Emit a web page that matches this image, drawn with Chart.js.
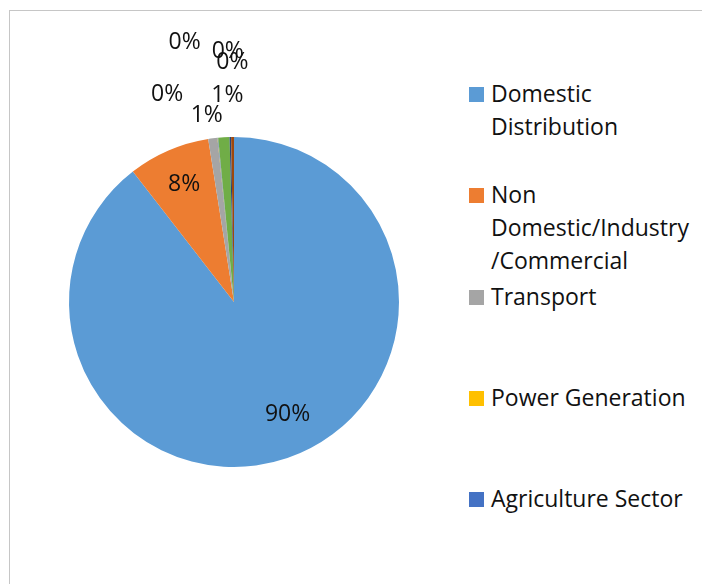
<!DOCTYPE html>
<html>
<head>
<meta charset="utf-8">
<script src="https://cdn.jsdelivr.net/npm/chart.js@4"></script>
<style>
  html, body { margin: 0; padding: 0; background: #fff; overflow: hidden; }
  body { width: 702px; height: 584px; position: relative; font-family: "Open Sans", sans-serif; }
  .frame { position: absolute; left: 9px; top: 10px; width: 800px; height: 700px; border: 1px solid #c6c6c6; }
  #myChart { position: absolute; left: 0; top: 0; }
  .legend { position: absolute; left: 469px; top: 77px; }
  .legend-item { position: relative; height: 101.3px; padding-left: 22px; font-size: 23px; line-height: 33px; color: #111; }
  .legend-item span { position: absolute; left: 0; top: 10px; width: 15px; height: 15px; }
</style>
</head>
<body>
<div class="frame"></div>
<canvas id="myChart" width="468" height="584"></canvas>
<div class="legend" id="legend"></div>
<script>
const sectors = ["Domestic Distribution", "Non Domestic/Industry /Commercial", "Transport", "Power Generation", "Agriculture Sector", "Category 6", "Category 7", "Category 8"]
const legendLines = [["Domestic", "Distribution"], ["Non", "Domestic/Industry", "/Commercial"], ["Transport"], ["Power Generation"], ["Agriculture Sector"]]
const shares = [89.5, 8.0, 0.9, 0.02, 0.05, 1.1, 0.15, 0.28]
const colors = ["#5B9BD5", "#ED7D31", "#A5A5A5", "#FFC000", "#4472C4", "#70AD47", "#264478", "#9E480E"]

// nudges for the labels (Excel pushes the crowded ones apart)
const labelNudge = [[13, -6], [0, -2], [-3, 1], [-48, -19], [-31, -71], [5, -18], [-2, -62], [0, -51]]

const $legend = document.querySelector("#legend")
legendLines.forEach((lines, i) => {
    const item = document.createElement("div")
    item.className = "legend-item"
    item.innerHTML = `<span style="background:${colors[i]}"></span>` + lines.join("<br>")
    $legend.appendChild(item)
})

const pctLabels = {
    id: "pctLabels",
    afterDatasetsDraw(chart) {
        const c = chart.ctx
        const data = chart.data.datasets[0].data
        const total = data.reduce((a, b) => a + b, 0)
        c.save()
        c.font = "23px 'Open Sans'"
        c.fillStyle = "#111"
        c.textAlign = "center"
        c.textBaseline = "middle"
        chart.getDatasetMeta(0).data.forEach((arc, i) => {
            const pct = data[i] / total * 100
            const mid = (arc.startAngle + arc.endAngle) / 2
            const d = pct > 5 ? arc.outerRadius * 0.76 : arc.outerRadius + 24
            const n = labelNudge[i] || [0, 0]
            const x = arc.x + Math.cos(mid) * d + n[0]
            const y = arc.y + Math.sin(mid) * d + n[1]
            c.fillText(Math.round(pct) + "%", x, y)
        })
        c.restore()
    }
}

const ctx = document.getElementById("myChart")
new Chart(ctx, {
    type: "pie",
    data: {
        labels: sectors,
        datasets: [{
            data: shares,
            backgroundColor: colors,
            borderWidth: 0
        }]
    },
    options: {
        responsive: false,
        animation: false,
        layout: { padding: { left: 69, right: 69, top: 137, bottom: 117 } },
        plugins: {
            legend: { display: false },
            tooltip: { enabled: false }
        }
    },
    plugins: [pctLabels]
})
</script>
</body>
</html>
